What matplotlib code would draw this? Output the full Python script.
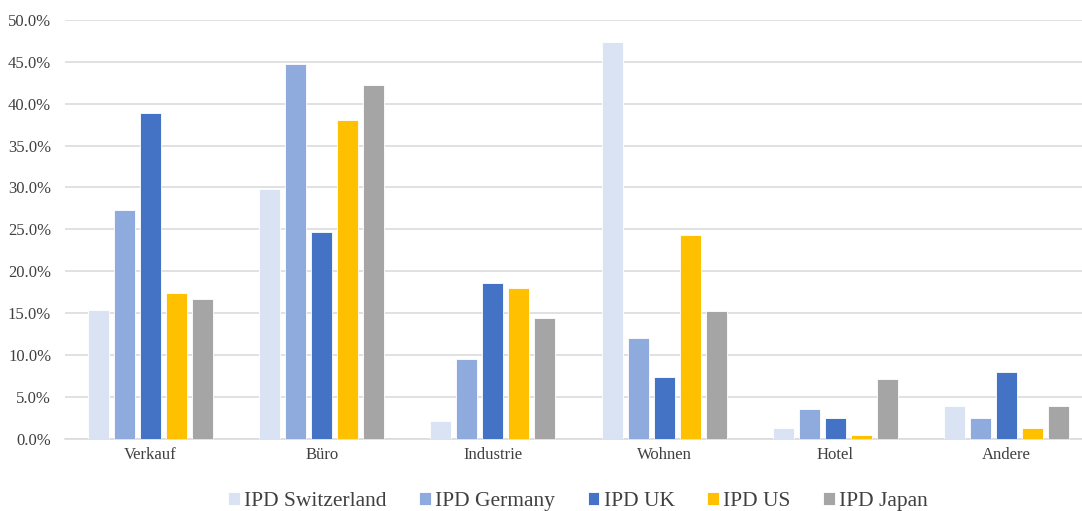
import matplotlib
matplotlib.use("Agg")
import matplotlib.pyplot as plt
import numpy as np
from matplotlib.ticker import FuncFormatter, MultipleLocator

categories = ["Verkauf", "Büro", "Industrie", "Wohnen", "Hotel", "Andere"]
series_names = ["IPD Switzerland", "IPD Germany", "IPD UK", "IPD US", "IPD Japan"]
switzerland = [15.3, 29.8, 2.1, 47.4, 1.25, 3.85]
germany = [27.3, 44.8, 9.5, 12.0, 3.5, 2.45]
uk = [38.85, 24.7, 18.6, 7.35, 2.4, 7.9]
us = [17.4, 38.0, 18.0, 24.3, 0.45, 1.25]
japan = [16.7, 42.2, 14.4, 15.2, 7.1, 3.85]
colors = ["#DAE3F3", "#8FAADC", "#4472C4", "#FFC000", "#A5A5A5"]

plt.rcParams["font.family"] = ["Liberation Serif", "DejaVu Serif"]

fig = plt.figure(figsize=(10.82, 5.11), dpi=100)
ax = fig.add_axes([65 / 1082, 72.5 / 511, 1027 / 1082, 418.5 / 511])

x = np.arange(len(categories))
pitch = 0.152
width = 0.123
all_series = [switzerland, germany, uk, us, japan]
for i, (name, vals, c) in enumerate(zip(series_names, all_series, colors)):
    ax.bar(x + (i - 2) * pitch, vals, width, color=c, label=name,
           edgecolor="white", linewidth=0.6, zorder=3)

ax.set_xlim(-0.5, len(categories) - 0.5)
ax.set_ylim(0, 50)
ax.yaxis.set_major_locator(MultipleLocator(5))
ax.yaxis.set_major_formatter(FuncFormatter(lambda v, p: f"{v:.1f}%"))
ax.grid(axis="y", color="#D9D9D9", linewidth=1.1, zorder=0)
ax.set_xticks(x)
ax.set_xticklabels(categories)
ax.tick_params(axis="both", length=0, labelsize=12, colors="#404040")
ax.tick_params(axis="x", pad=6)
ax.tick_params(axis="y", pad=10)
for s in ["top", "right", "left"]:
    ax.spines[s].set_visible(False)
ax.spines["bottom"].set_color("#D9D9D9")
ax.spines["bottom"].set_linewidth(1.1)

ax.legend(loc="center", bbox_to_anchor=(0.4995, -0.15), ncol=5, frameon=False,
          prop={"family": "Liberation Serif", "size": 15.5},
          handlelength=0.55, handleheight=0.55, handletextpad=0.2,
          columnspacing=1.5, labelcolor="#404040")

fig.savefig("out.png", dpi=100)
